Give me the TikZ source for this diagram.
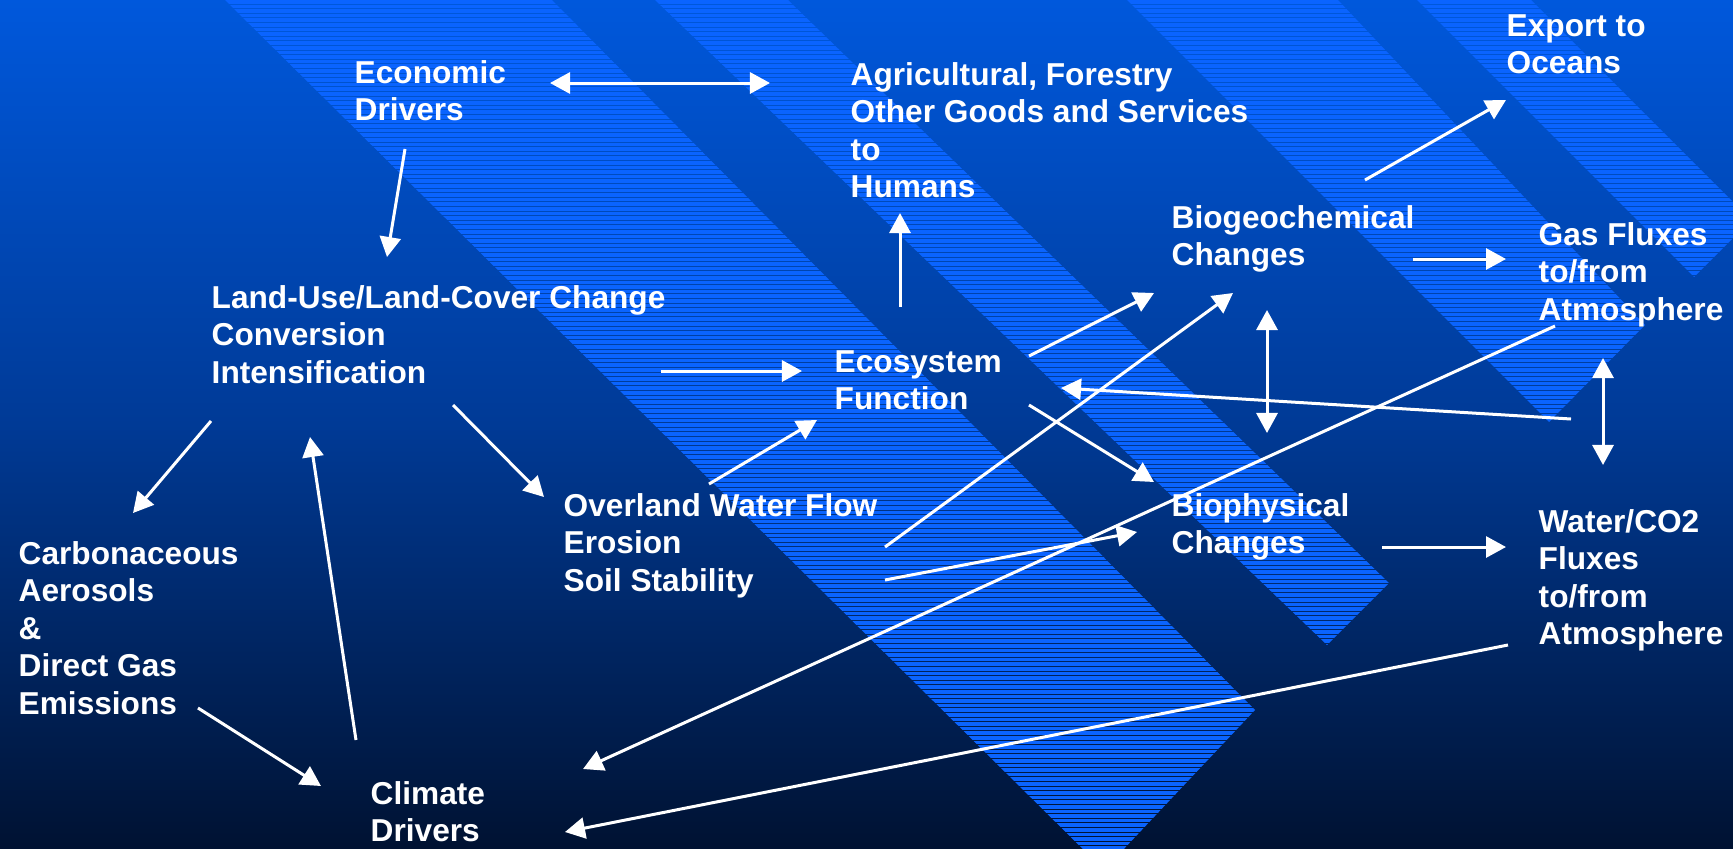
\documentclass[tikz,border=0pt]{standalone}
\usepackage{fontspec}
\setmainfont{Liberation Sans}
\usetikzlibrary{arrows.meta}
\definecolor{bgtop}{RGB}{0,88,220}
\definecolor{bgmid}{RGB}{0,58,150}
\definecolor{bgbot}{RGB}{0,18,50}
\definecolor{bandblue}{RGB}{10,100,255}
% first line of a label sits on the node's base
\newcommand{\textlines}[1]{\begin{tabular}[t]{@{}l@{}}#1\end{tabular}}
\begin{document}
\begin{tikzpicture}[x=0.01cm, y=-0.01cm,
        txt/.style={text=white, font=\bfseries\fontsize{9}{10.7}\selectfont,
            anchor=base west, inner sep=0pt},
        flow/.style={draw=white, line width=0.03cm,
            -{Triangle[length=0.2cm, width=0.21cm]}},
        both/.style={flow,
            {Triangle[length=0.2cm, width=0.21cm]}-{Triangle[length=0.2cm, width=0.21cm]}}]
        % Draw the background
        \useasboundingbox (0,0) rectangle (1733,848);
        \shade[top color=bgtop, bottom color=bgbot, middle color=bgmid] (0,0) rectangle (1733,848);

        % Draw the striped bands
        \begin{scope}
            \clip (225,0) -- (552,0) -- (1255,710) -- (1104,870) -- cycle
                  (655,0) -- (788,0) -- (1389,583) -- (1327,645) -- cycle
                  (1127,0) -- (1338,0) -- (1645,325) -- (1549,422) -- cycle
                  (1417,0) -- (1531,0) -- (1751,220) -- (1694,277) -- cycle;
            \foreach \i in {0,...,189}
                \fill[bandblue] (0,\i*4.6) rectangle (1760,\i*4.6+3.5);
        \end{scope}

        % Draw the labels
        \node[txt] (econ) at (354,83) {\textlines{Economic\\Drivers}};
        \node[txt] (agri) at (850,85) {\textlines{Agricultural, Forestry\\Other Goods and Services\\to\\Humans}};
        \node[txt] (export) at (1506,36) {\textlines{Export to\\Oceans}};
        \node[txt] (biogeo) at (1171,228) {\textlines{Biogeochemical\\Changes}};
        \node[txt] (gas) at (1538,245) {\textlines{Gas Fluxes\\to/from\\Atmosphere}};
        \node[txt] (landuse) at (211,308) {\textlines{Land-Use/Land-Cover Change\\Conversion\\Intensification}};
        \node[txt] (ecosys) at (834,372) {\textlines{Ecosystem\\Function}};
        \node[txt] (overland) at (563,516) {\textlines{Overland Water Flow\\Erosion\\Soil Stability}};
        \node[txt] (biophys) at (1171,516) {\textlines{Biophysical\\Changes}};
        \node[txt] (water) at (1538,532) {\textlines{Water/CO2\\Fluxes\\to/from\\Atmosphere}};
        \node[txt] (carbon) at (18,564) {\textlines{Carbonaceous\\Aerosols\\\&\\Direct Gas\\Emissions}};
        \node[txt] (climate) at (370,804) {\textlines{Climate\\Drivers}};
        \coordinate (fluxback) at (1571,419);

        % Draw the arrows on the left
        \draw[both] ([shift={(196,0)}]econ.base west) -- ([shift={(-80,-2)}]agri.base west);
        \draw[flow] ([shift={(51,66)}]econ.base west) -- ([shift={(176,-51)}]landuse.base west);
        \draw[flow] ([shift={(450,63)}]landuse.base west) -- ([shift={(-32,-1)}]ecosys.base west);
        \draw[flow] ([shift={(66,-65)}]ecosys.base west) -- ([shift={(50,128)}]agri.base west);
        \draw[flow] ([shift={(0,113)}]landuse.base west) -- ([shift={(115,-51)}]carbon.base west);
        \draw[flow] ([shift={(-14,-64)}]climate.base west) -- ([shift={(99,129)}]landuse.base west);
        \draw[flow] ([shift={(242,97)}]landuse.base west) -- ([shift={(-19,-19)}]overland.base west);
        \draw[flow] ([shift={(180,144)}]carbon.base west) -- ([shift={(-49,-18)}]climate.base west);
        \draw[flow] ([shift={(146,-32)}]overland.base west) -- ([shift={(-17,48)}]ecosys.base west);

        % Draw the arrows in the middle
        \draw[flow] ([shift={(195,-16)}]ecosys.base west) -- ([shift={(-17,65)}]biogeo.base west);
        \draw[flow] ([shift={(195,33)}]ecosys.base west) -- ([shift={(-17,-34)}]biophys.base west);
        \draw[flow] ([shift={(322,31)}]overland.base west) -- ([shift={(62,65)}]biogeo.base west);
        \draw[flow] ([shift={(322,64)}]overland.base west) -- ([shift={(-34,16)}]biophys.base west);
        \draw[both] ([shift={(96,82)}]biogeo.base west) -- ([shift={(96,-83)}]biophys.base west);

        % Draw the arrows on the right
        \draw[flow] ([shift={(242,31)}]biogeo.base west) -- ([shift={(-32,14)}]gas.base west);
        \draw[flow] ([shift={(194,-48)}]biogeo.base west) -- ([shift={(0,64)}]export.base west);
        \draw[both] ([shift={(65,113)}]gas.base west) -- ([shift={(65,-67)}]water.base west);
        \draw[flow] ([shift={(211,31)}]biophys.base west) -- ([shift={(-32,15)}]water.base west);
        \draw[flow] (fluxback) -- ([shift={(227,16)}]ecosys.base west);
        \draw[flow] ([shift={(17,81)}]gas.base west) -- ([shift={(213,-35)}]climate.base west);
        \draw[flow] ([shift={(-30,113)}]water.base west) -- ([shift={(195,28)}]climate.base west);
\end{tikzpicture}
\end{document}
